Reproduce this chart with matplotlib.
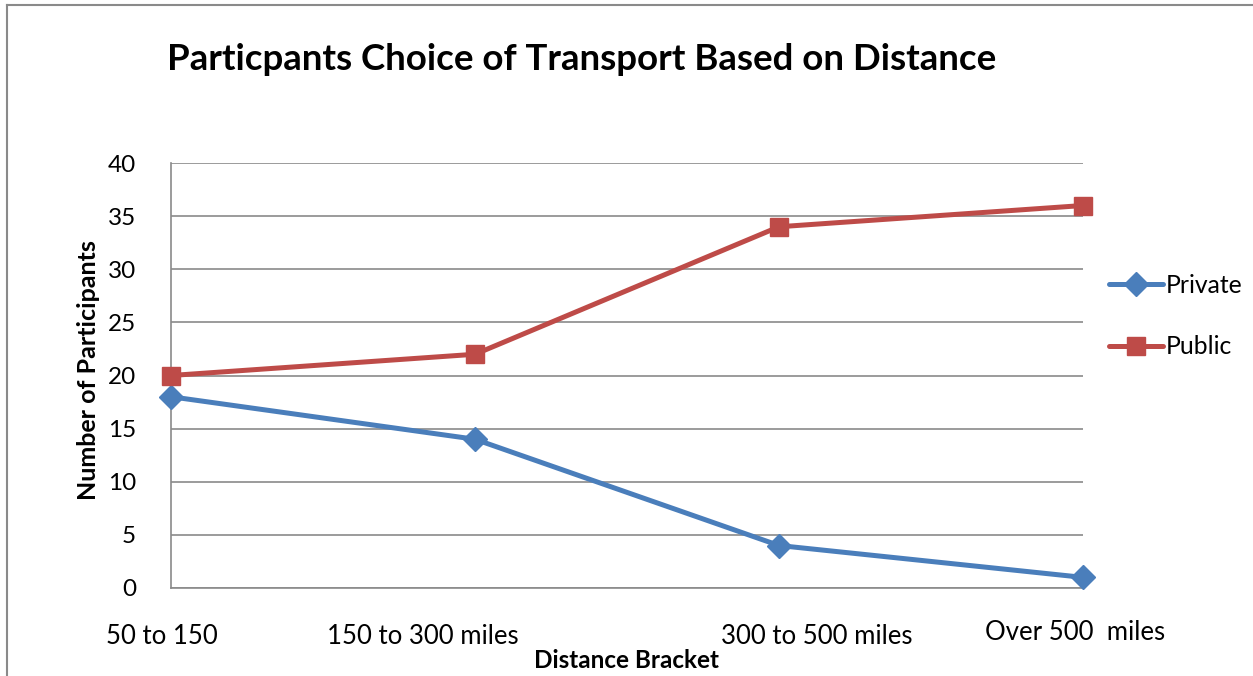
import matplotlib
matplotlib.use("Agg")
import matplotlib.pyplot as plt
from matplotlib.lines import Line2D
import matplotlib.transforms as mtransforms

categories = ["50 to 150", "150 to 300 miles", "300 to 500 miles", "Over 500  miles"]
private = [18, 14, 4, 1]
public = [20, 22, 34, 36]
yticks = [0, 5, 10, 15, 20, 25, 30, 35, 40]

plt.rcParams['font.family'] = ['Lato', 'DejaVu Sans']

fig = plt.figure(figsize=(12.53, 6.76), dpi=100)
ax = fig.add_axes([171/1253, 1-588/676, (1083-171)/1253, (588-163)/676])

x = list(range(len(categories)))
ax.plot(x, private, color='#4A7EBB', lw=3.6, marker='D', markersize=12, label='Private',
        solid_capstyle='round', clip_on=False, zorder=3)
ax.plot(x, public, color='#BE4B48', lw=3.6, marker='s', markersize=13.5, label='Public',
        solid_capstyle='round', clip_on=False, zorder=3)

ax.set_xlim(0, 3)
ax.set_ylim(0, 40)
ax.set_yticks(yticks)
ax.set_yticklabels([str(v) for v in yticks], fontsize=17.5)
ax.tick_params(axis='y', length=0, pad=25)
ax.set_xticks([])
ax.grid(axis='y', color='#8a8a8a', lw=1.2)
ax.set_axisbelow(True)
for s in ['top', 'right']:
    ax.spines[s].set_visible(False)
for s in ['left', 'bottom']:
    ax.spines[s].set_color('#8a8a8a')
    ax.spines[s].set_linewidth(1.2)

# category labels (Excel-like offsets)
offsets_px = [-9, -52, 38, -8]
yoffs_px = [-48, -48, -48, -44]
for i, (lab, dx, dy) in enumerate(zip(categories, offsets_px, yoffs_px)):
    tr = mtransforms.blended_transform_factory(ax.transData, ax.transAxes) + \
        mtransforms.ScaledTranslation(dx/100, dy/100, fig.dpi_scale_trans)
    ax.text(i, 0, lab, transform=tr, ha='center', va='center', fontsize=18.5)

fig.text(626/1253, 1-661/676, "Distance Bracket", ha='center', va='center', fontsize=17.5, fontweight='bold')
fig.text(89/1253, 1-370/676, "Number of Participants", ha='center', va='center', rotation=90, fontsize=18, fontweight='bold')
fig.text(582/1253, 1-60/676, "Particpants Choice of Transport Based on Distance", ha='center', va='center', fontsize=26.4, fontweight='bold')

leg = ax.legend(loc='center left', bbox_to_anchor=(1109/1253, 1-316/676), bbox_transform=fig.transFigure,
                frameon=False, fontsize=17.8, handlelength=2.2, handletextpad=0.1, labelspacing=1.55, borderaxespad=0,
                borderpad=0)

# outer chart border (left and top visible)
fig.add_artist(Line2D([7/1253, 7/1253], [0, 1-5/676], color='#8a8a8a', lw=1.5, transform=fig.transFigure))
fig.add_artist(Line2D([7/1253, 1], [1-5/676, 1-5/676], color='#8a8a8a', lw=1.5, transform=fig.transFigure))

fig.savefig("out.png", dpi=100, facecolor='white')
